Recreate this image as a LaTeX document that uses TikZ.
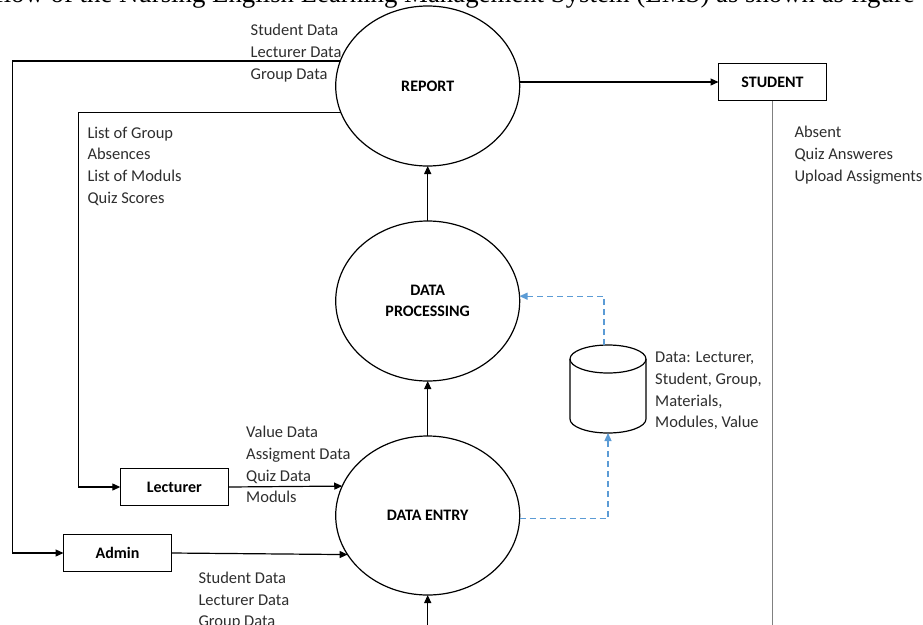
\documentclass[tikz,border=0pt]{standalone}
\usepackage{fontspec}
\setmainfont{Carlito}
\newfontfamily\titlefont{Liberation Serif}
\usetikzlibrary{arrows.meta,shapes.geometric}
\definecolor{dashblue}{HTML}{5B9BD5}
\begin{document}
\begin{tikzpicture}[x=1pt,y=-1pt,
  lbl/.style={font=\fontsize{16.5pt}{21.7pt}\selectfont, text=black!82, align=left, inner sep=0pt, anchor=base west},
  procnode/.style={ellipse, draw, line width=1.2pt, minimum width=184pt, minimum height=160pt, inner sep=0pt, outer sep=0pt, font=\bfseries\fontsize{16pt}{21pt}\selectfont, align=center},
  entity/.style={rectangle, draw, line width=1.2pt, minimum width=108pt, minimum height=37.5pt, inner sep=0pt, outer sep=0pt, font=\bfseries\fontsize{16pt}{18pt}\selectfont},
  flow/.style={line width=1.2pt, -{Triangle[length=8pt,width=7pt]}},
  link/.style={line width=1.2pt},
  dflow/.style={draw=dashblue, line width=1.3pt, dash pattern=on 6pt off 4pt, -{Triangle[length=8pt,width=7pt]}},
]
\useasboundingbox (0,0) rectangle (923,624);
\fill[white] (0,0) rectangle (923,624);

% title fragment (cut off at the top and left)
\node[font=\titlefont\fontsize{26.8pt}{30pt}\selectfont, anchor=base east, inner sep=0pt] (title) at (915,2.5) {flow of the Nursing English Learning Management System (LMS) as shown as figure};

% processes
\node[procnode] (rep) at (427.7,86) {REPORT};
\node[procnode] (dp) at (427.7,301) {DATA\\PROCESSING};
\node[procnode, minimum height=159pt] (de) at (427.7,515.5) {DATA ENTRY};

% entities
\node[entity] (stu) at (772.5,82) {STUDENT};
\node[entity] (lec) at (174.3,487) {Lecturer};
\node[entity] (adm) at (117.5,553) {Admin};

% data store
\node[minimum width=76pt, minimum height=88pt, inner sep=0pt, outer sep=0pt] (db) at (608,389) {};
\draw[link] (570,359) -- (570,419) arc[start angle=180, end angle=0, x radius=38, y radius=14] -- (646,359);
\draw[link] (608,359) ellipse[x radius=38, y radius=14];

% helper coordinates
\coordinate (lx) at (12.3,0);
\coordinate (mx) at (78.3,0);
\coordinate (bot) at (427.7,640);

% flows
\draw[flow] (de) -- (dp);
\draw[flow] (dp) -- (rep);
\draw[flow] (bot) -- (de);
\draw[flow] (stu.west -| rep.east) -- (stu.west);
\draw[flow] (rep.164.8) -- (rep.164.8 -| lx) |- (adm.west);
\draw[flow] (rep.197.1) -- (rep.197.1 -| mx) |- (lec.west);
\draw[flow] (lec.east) -- (de.161.6);
\draw[flow] (adm.east) -- (de.206.3);
\draw[dflow] ([xshift=-4pt]db.north) |- (dp.3);
\draw[dflow] (de.358.2) -| (db.south);
\draw[draw=black!50, line width=1.1pt] (stu.south) -- (stu.south |- bot);

% labels (anchor = baseline of the last line)
\node[lbl] (t1) at (250.5,79) {Student Data\\Lecturer Data\\Group Data};
\node[lbl] (t2) at (87.3,203.3) {List of Group\\Absences\\List of Moduls\\Quiz Scores};
\node[lbl] (t3) at (794.3,181) {Absent\\Quiz Answeres\\Upload Assigments};
\node[lbl] (t4) at (655,427.7) {Data: Lecturer,\\Student, Group,\\Materials,\\Modules, Value};
\node[lbl] (t5) at (246,502.7) {Value Data\\Assigment Data\\Quiz Data\\Moduls};
\node[lbl] (t6) at (198.3,626.7) {Student Data\\Lecturer Data\\Group Data};
\end{tikzpicture}
\end{document}
